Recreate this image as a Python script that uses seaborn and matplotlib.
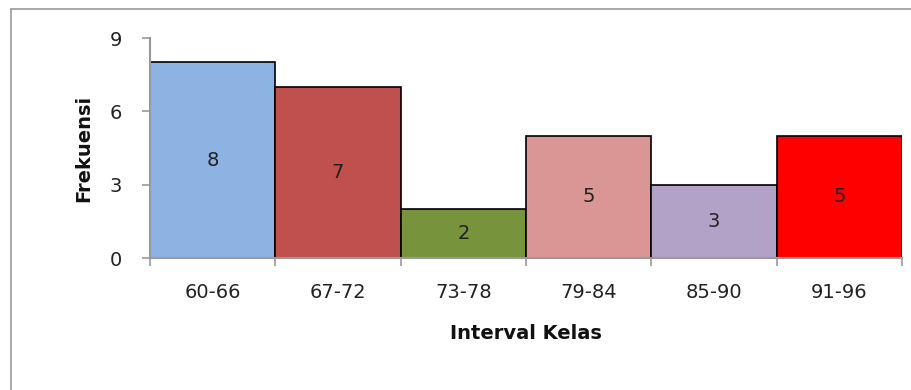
import matplotlib
matplotlib.use("Agg")
import matplotlib.pyplot as plt
from matplotlib.ticker import FixedLocator
import seaborn as sns
import pandas as pd

# Frequency table
intervals = ["60-66", "67-72", "73-78", "79-84", "85-90", "91-96"]
frekuensi = [8, 7, 2, 5, 3, 5]
warna = ["#8DB3E2", "#C0504D", "#77933C", "#D99694", "#B3A2C7", "#FF0000"]
y_ticks = [0, 3, 6, 9]

sns.set_theme(style="white")
plt.rcParams["font.family"] = ["DejaVu Sans"]

df = pd.DataFrame({"Interval": intervals, "Frekuensi": frekuensi})

fig = plt.figure(figsize=(9.12, 3.9), dpi=100)
ax = fig.add_axes([150 / 912, 1 - 258 / 390, (902 - 150) / 912, (258 - 38) / 390])

sns.barplot(data=df, x="Interval", y="Frekuensi", hue="Interval",
            palette=warna, width=1.0, edgecolor="black", linewidth=1.2,
            legend=False, ax=ax, saturation=1)

for i, v in enumerate(frekuensi):
    ax.text(i, v / 2, str(v), ha="center", va="center", fontsize=14, color="#222222")

ax.set_xlim(-0.5, len(intervals) - 0.5)
ax.set_ylim(0, 9)
ax.set_yticks(y_ticks)
ax.set_yticklabels([str(t) for t in y_ticks], fontsize=14)
ax.set_xticks(range(len(intervals)))
ax.set_xticklabels(intervals, fontsize=14)
ax.xaxis.set_minor_locator(FixedLocator([i - 0.5 for i in range(len(intervals) + 1)]))
ax.tick_params(axis="x", which="major", length=0, pad=18, colors="#222222")
ax.tick_params(axis="x", which="minor", length=6, width=1.2, color="#999999", direction="out")
ax.tick_params(axis="y", length=6, width=1.2, color="#999999", direction="out", pad=14, labelcolor="#222222")
ax.xaxis.set_ticks_position("bottom")
ax.yaxis.set_ticks_position("left")

for s in ["top", "right"]:
    ax.spines[s].set_visible(False)
for s in ["left", "bottom"]:
    ax.spines[s].set_color("#999999")
    ax.spines[s].set_linewidth(1.5)

ax.set_xlabel("Interval Kelas", fontsize=14, fontweight="bold", labelpad=16, color="#111111")
ax.set_ylabel("Frekuensi", fontsize=14, fontweight="bold", labelpad=12, color="#111111")

# Outer frame (left and top edges)
fig.add_artist(plt.Line2D([11 / 912, 11 / 912], [0, 1 - 9 / 390], color="#999999", lw=1.2,
                          transform=fig.transFigure))
fig.add_artist(plt.Line2D([11 / 912, 1], [1 - 9 / 390, 1 - 9 / 390], color="#999999", lw=1.2,
                          transform=fig.transFigure))

fig.savefig("out.png", dpi=100)
